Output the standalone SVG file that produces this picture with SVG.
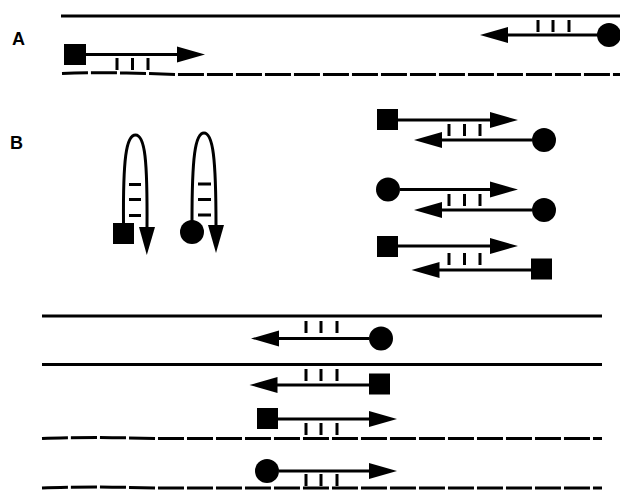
<svg xmlns="http://www.w3.org/2000/svg" width="620" height="490" viewBox="0 0 620 490">
<style>
.s{fill:none;stroke:#000;stroke-width:3}
.d{fill:none;stroke:#000;stroke-width:3;stroke-dasharray:26 3}
.a{fill:none;stroke:#000;stroke-width:3;marker-end:url(#ah)}
.t{fill:none;stroke:#000;stroke-width:3}
.f{fill:#000}
.lbl{font-family:"Liberation Sans",Arial,sans-serif;font-weight:bold;font-size:18px;fill:#000}
</style>
<defs>
<marker id="ah" markerUnits="userSpaceOnUse" markerWidth="30" markerHeight="20" viewBox="0 -10 30 20" refX="0" refY="0" orient="auto" overflow="visible">
<path d="M-1,-8 L27,0 L-1,8 Z" fill="#000"/>
</marker>
</defs>
<rect width="620" height="490" fill="#fff"/>
<text class="lbl" x="12" y="45">A</text>
<text class="lbl" x="10" y="149">B</text>

<g id="panelA-templates">
<line class="s" x1="61" y1="16" x2="620" y2="16"/>
<path class="d" d="M62,73.5 C95,72 140,73 176,74.5 L620,74.5"/>
</g>
<g id="A-primer-forward">
<rect class="f" x="64" y="44" width="22" height="21"/>
<path class="a" d="M86,54.5 H178"/>
<path class="t" d="M117,58 V70 M132.5,58 V70 M148,58 V70"/>
</g>
<g id="A-primer-reverse">
<circle class="f" cx="609" cy="35" r="12"/>
<path class="a" d="M598,35 H507"/>
<path class="t" d="M538,20 V32 M553,20 V32 M569,20 V32"/>
</g>

<g id="B-hairpin-square">
<rect class="f" x="113" y="223" width="21" height="21"/>
<path class="a" d="M123.5,223 C123,160 126,135 135.5,135 C145,135 147.5,160 147,228"/>
<path class="t" d="M129,184.5 H141 M129,199.5 H141 M129,215.5 H141"/>
</g>
<g id="B-hairpin-circle">
<circle class="f" cx="192" cy="232" r="12"/>
<path class="a" d="M192,221 C192,158 195,133 204,133 C213,133 216,158 216,226"/>
<path class="t" d="M198,184 H211 M198,199.5 H211 M198,215 H211"/>
</g>

<g id="B-dimer-1">
<rect class="f" x="377" y="109" width="21" height="21"/>
<path class="a" d="M398,120 H491"/>
<path class="t" d="M449,124 V136 M464.5,124 V136 M480,124 V136"/>
<circle class="f" cx="544" cy="140" r="12"/>
<path class="a" d="M532,140 H441"/>
</g>
<g id="B-dimer-2">
<circle class="f" cx="388" cy="189.5" r="12"/>
<path class="a" d="M400,189.5 H491"/>
<path class="t" d="M449,194 V206 M464.5,194 V206 M480,194 V206"/>
<circle class="f" cx="544" cy="210" r="12"/>
<path class="a" d="M532,210 H441"/>
</g>
<g id="B-dimer-3">
<rect class="f" x="377" y="236" width="21" height="21"/>
<path class="a" d="M398,246 H491"/>
<path class="t" d="M449,253 V265 M464.5,253 V265 M480,253 V265"/>
<rect class="f" x="531" y="258.5" width="21" height="21"/>
<path class="a" d="M531,270 H438.5"/>
</g>

<g id="bottom-templates">
<line class="s" x1="42" y1="316" x2="602" y2="316"/>
<line class="s" x1="42" y1="364.5" x2="602" y2="364.5"/>
<path class="d" d="M42,438.5 C70,437 120,437.5 157,438.5 L602,438.5"/>
<path class="d" d="M42,488 C70,486.5 120,487 157,488 L602,488"/>
</g>
<g id="bottom-strand-1">
<circle class="f" cx="381" cy="338.5" r="12"/>
<path class="a" d="M369,338.5 H278"/>
<path class="t" d="M306,321 V333 M321,321 V333 M337,321 V333"/>
</g>
<g id="bottom-strand-2">
<rect class="f" x="369" y="373.5" width="21" height="21"/>
<path class="a" d="M369,385 H276.5"/>
<path class="t" d="M306,369 V381 M321,369 V381 M337,369 V381"/>
</g>
<g id="bottom-strand-3">
<rect class="f" x="257" y="408" width="21" height="21"/>
<path class="a" d="M278,419 H370"/>
<path class="t" d="M306,423 V435 M321,423 V435 M337,423 V435"/>
</g>
<g id="bottom-strand-4">
<circle class="f" cx="267" cy="471" r="12"/>
<path class="a" d="M279,471 H370"/>
<path class="t" d="M306,474 V486 M321,474 V486 M337,474 V486"/>
</g>
</svg>
